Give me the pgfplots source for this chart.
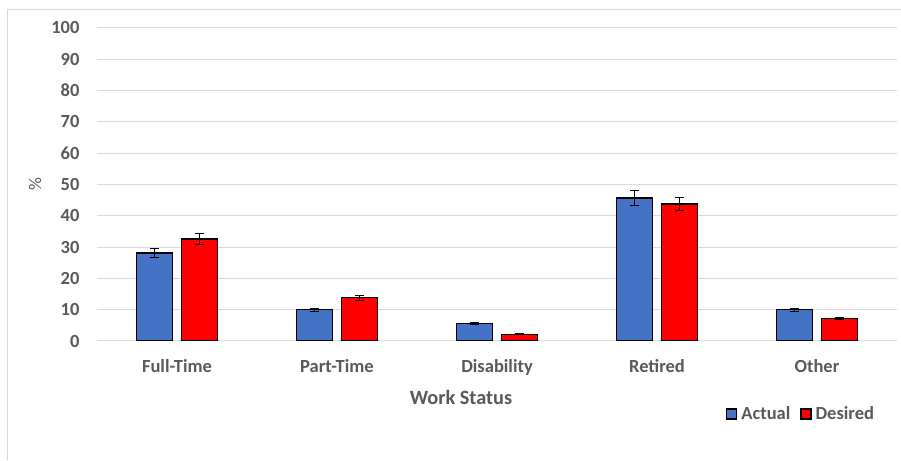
\documentclass[border=0pt]{standalone}
\usepackage{pgfplots}
\pgfplotsset{compat=1.18}
\usepackage{pgfplotstable}
\usepackage{fontspec}
\setmainfont{Carlito}
\definecolor{actual}{HTML}{4472C4}
\definecolor{desired}{HTML}{FF0000}
\definecolor{gridc}{HTML}{D9D9D9}
\definecolor{txt}{HTML}{595959}
\pgfplotstableread{
x  a     ae   d     de
0  28.1  1.4  32.6  1.7
1  10.0  0.5  13.8  0.8
2  5.6   0.3  2.2   0.2
3  45.7  2.3  43.8  2.2
4  10.0  0.4  7.1   0.3
}\datatab
\begin{document}
\begin{tikzpicture}
\useasboundingbox (0pt,0pt) rectangle (901pt,460pt);
\draw[gridc, line width=1pt] (7pt,0pt) -- (7pt,450pt) -- (901pt,450pt);
\begin{axis}[
  at={(97pt,119pt)}, anchor=south west,
  scale only axis, width=800pt, height=313pt,
  xmin=-0.5, xmax=4.5, ymin=0, ymax=100,
  ybar=9pt, bar width=36pt,
  xtick={0,1,2,3,4},
  xticklabels={Full-Time,Part-Time,Disability,Retired,Other},
  ytick={0,10,...,100},
  ymajorgrids, grid style={gridc, line width=1pt},
  axis line style={draw=none},
  tick style={draw=none},
  font=\fontsize{18.5}{20}\selectfont\bfseries,
  /pgf/number format/assume math mode=true,
  ticklabel style={text=txt, font=\fontsize{18.5}{20}\selectfont\bfseries},
  xticklabel style={yshift=-11pt},
  yticklabel style={xshift=-14pt},
  ylabel={\%},
  ylabel style={at={(axis description cs:-0.0775,0.5)}, anchor=center, text=txt, font=\fontsize{18}{20}\selectfont},
  xlabel={Work Status},
  xlabel style={at={(axis description cs:0.455,-0.179)}, anchor=center, text=txt, font=\fontsize{20.3}{22}\selectfont\bfseries},
  legend style={at={(axis description cs:0.7825,-0.233)}, anchor=west, draw=none, fill=none,
    legend columns=2, font=\fontsize{18.5}{20}\selectfont\bfseries, text=txt,
    /tikz/every odd column/.append style={column sep=2pt},
    /tikz/every even column/.append style={column sep=8pt}},
  legend image code/.code={\draw[#1, line width=1.2pt] (0pt,-5pt) rectangle (10pt,5pt);},
  error bars/error bar style={black, line width=0.9pt},
  error bars/error mark options={rotate=90, mark size=4.5pt, black, line width=0.9pt},
]
\addplot[fill=actual, draw=black, line width=1.2pt,
  error bars/.cd, y dir=both, y explicit] table[x=x, y=a, y error=ae] {\datatab};
\addplot[fill=desired, draw=black, line width=1.2pt,
  error bars/.cd, y dir=both, y explicit] table[x=x, y=d, y error=de] {\datatab};
\legend{Actual,Desired}
\end{axis}
\end{tikzpicture}
\end{document}
